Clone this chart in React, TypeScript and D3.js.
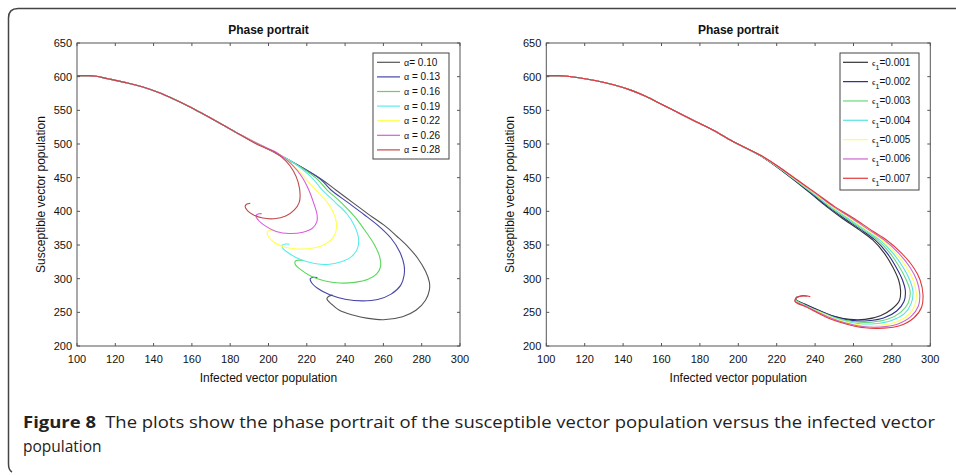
import React from "react";
import * as d3 from "d3";

type P = [number, number];

// ---------- data ----------
const xTicks = [100, 120, 140, 160, 180, 200, 220, 240, 260, 280, 300];
const yTicks = [200, 250, 300, 350, 400, 450, 500, 550, 600, 650];

const leftLabels = ["0.10", "0.13", "0.16", "0.19", "0.22", "0.26", "0.28"];
const rightLabels = ["0.001", "0.002", "0.003", "0.004", "0.005", "0.006", "0.007"];

const leftColors = ["#555555", "#4646aa", "#5ad85a", "#5aecec", "#ffff50", "#dc5adc", "#c04a4a"];
const rightColors = ["#333333", "#2c2c8c", "#6ad87a", "#5ae2e2", "#ffff5a", "#cc66cc", "#e03a3a"];

const leftCommon: P[] = [
  [100, 601.5], [106, 601.5], [110, 600.5], [116, 597], [125, 591.5], [134, 585],
  [143, 576], [151, 566], [158, 556.5], [165, 546], [177, 527], [186, 512.5],
];

const alpha010: P[] = [[196, 498], [212, 474], [228, 447], [235, 432], [244, 413], [253, 394], [261, 378], [267, 363], [273, 347], [278, 330], [282, 311], [284, 295], [284, 283], [282, 268], [277, 253], [270, 243.5], [260, 239], [252, 241], [244, 246], [237, 253], [233, 262], [230.5, 270], [231.5, 274], [233.5, 275.5]];
const alpha013: P[] = [[196, 498], [212, 474], [227, 448], [232.5, 432], [241, 414], [250, 395], [258, 377], [264, 360], [268.5, 340], [270.8, 320], [270.8, 305], [269, 290], [264, 277], [257, 269], [249, 267], [240, 269.5], [232, 276], [226, 285], [222.5, 294], [221.8, 300], [223.5, 302], [225.5, 301.5]];
const alpha016: P[] = [[196, 498], [212, 474], [225, 449], [230.5, 432], [238, 413], [245, 392], [250, 373], [255, 352], [258, 333], [258.5, 318], [256.5, 307], [252, 299], [245, 294.5], [237, 293.5], [229, 297], [222, 304], [217, 313], [214, 321], [214, 326], [216, 327.5], [218, 327]];
const alpha019: P[] = [[196, 498], [212, 474], [222, 452], [228, 432], [235, 413], [241, 396], [245, 378], [247, 360], [246.5, 345], [243.5, 333], [238, 325], [231, 321], [224, 322.5], [217, 328], [211, 337], [207.5, 345], [207, 349.5], [209, 351.5], [211, 351]];
const alpha022: P[] = [[196, 498], [208, 480], [216, 459], [222, 440], [227, 425], [231.5, 410], [234.5, 394], [235.6, 377], [234, 362], [230, 352], [223.5, 345.5], [215, 344], [207, 348], [202, 356], [199.5, 365], [199.5, 370], [201, 372], [203, 372]];
const alpha026: P[] = [[196, 498], [205, 486], [212, 470], [217.5, 451], [221, 432], [223.5, 413], [225.3, 396], [225.3, 385], [223, 375], [218, 369], [211, 367], [204, 370], [198.5, 378], [195, 386], [193.5, 393], [194.5, 396], [196.5, 396.5]];
const alpha028: P[] = [[195, 498], [203, 488], [209, 475], [213, 460], [215.5, 443], [216.5, 425], [216, 413], [213.5, 402], [209, 393], [203, 389], [197, 390], [192, 395], [189, 401], [187.8, 407], [188.5, 410.5], [190.5, 412]];

const rightCommon: P[] = [
  [100, 601.5], [106, 601.5], [110, 601], [117, 598.5], [126, 594], [135, 588],
  [144, 580], [152, 570.5], [160, 559], [169, 546], [178, 533], [187, 520.5], [197, 504], [205, 492.5],
];

const eps001: P[] = [[213, 480], [221, 464], [229, 446.5], [237.5, 427], [246, 407], [254.5, 389], [263, 372.5], [270, 357.5], [276, 338], [280.5, 317], [283.5, 298], [284.5, 283], [284, 268], [280, 255], [274, 245], [266, 239.5], [258, 239.5], [250, 244], [242, 253], [235, 262], [230, 269], [230.5, 272.5], [233, 274], [235.5, 273.5]];
const eps002: P[] = [[213.1, 480], [221.2, 464], [229.3, 446.5], [238, 427], [246.7, 407], [255.5, 389], [264, 372.5], [271.2, 357.5], [277.5, 338], [282.2, 317], [285.5, 298], [287, 282], [286.3, 266], [282.5, 252], [276, 242], [267.5, 237.5], [259, 238], [250.5, 243.5], [242, 252.5], [234.5, 261.5], [230, 268.5], [230.5, 272.5], [233, 274], [235.5, 273.5]];
const eps003: P[] = [[213.2, 480], [221.4, 464], [229.6, 446.5], [238.5, 427], [247.4, 407], [256.5, 389], [265, 372.5], [272.4, 357.5], [279, 338], [284, 317], [287.5, 298], [289.5, 281], [288.5, 264], [284.5, 250], [278, 240], [269.5, 235.5], [260.5, 236], [251, 241.5], [242.5, 251], [234.5, 261], [230, 268.5], [230.5, 272.5], [233, 274], [235.5, 273.5]];
const eps004: P[] = [[213.3, 480], [221.6, 464], [229.9, 446.5], [239, 427], [248.1, 407], [257.5, 389], [266, 372.5], [273.6, 357.5], [280.5, 338], [285.8, 317], [289.3, 298], [291, 280], [290, 263], [286.5, 248], [279.5, 237.5], [271, 233], [262, 233.5], [252.5, 239.5], [243.5, 249.5], [234.5, 260.5], [229.8, 268], [230.5, 272.5], [233, 274], [235.5, 273.5]];
const eps005: P[] = [[213.4, 480], [221.8, 464], [230.2, 446.5], [239.5, 427], [248.8, 407], [258.5, 389], [267, 372.5], [274.8, 357.5], [282, 338], [287.6, 317], [291.1, 298], [292.7, 279], [292, 261], [288.5, 246], [281, 234.5], [272.5, 230.5], [263.5, 231], [254, 237], [245, 247], [235, 259.5], [229.7, 267.5], [230.5, 272.3], [233, 274.2], [235.8, 273.7]];
const eps006: P[] = [[213.5, 480], [222, 464], [230.5, 446.5], [240, 427], [249.5, 407], [259.5, 389], [268, 372.5], [276, 357.5], [283.5, 338], [289.4, 317], [292.9, 298], [294.5, 277.5], [293.8, 259.5], [290, 244], [282.5, 232], [273.8, 228.2], [264.8, 229], [255.5, 234.5], [246.5, 243.5], [235.5, 258.5], [229.6, 267], [230.5, 272.2], [233, 274.3], [236, 273.8]];
const eps007: P[] = [[213.6, 480], [222.2, 464], [230.8, 446.5], [240.5, 427], [250.2, 407], [260.5, 389], [269, 372.5], [277.2, 357.5], [285, 338], [291.2, 317], [294.7, 298], [296.2, 276], [295.5, 258], [291.5, 242], [284, 230], [275, 226.5], [266, 227], [257, 232], [248, 240], [236, 257], [229.5, 266.5], [230.5, 272], [233, 274.5], [236, 274.3], [237.5, 273]];

const leftSeries = [alpha010, alpha013, alpha016, alpha019, alpha022, alpha026, alpha028].map((t) => [...leftCommon, ...t]);
const rightSeries = [eps001, eps002, eps003, eps004, eps005, eps006, eps007].map((t) => [...rightCommon, ...t]);

const FONT = "Arial, 'Liberation Sans', sans-serif";

function Panel(props: {
  x0: number; x1: number; series: P[][]; colors: string[];
  legend: React.ReactNode;
}) {
  const { x0, x1, series, colors, legend } = props;
  const y0 = 43, y1 = 346;
  const x = d3.scaleLinear().domain([100, 300]).range([x0, x1]);
  const y = d3.scaleLinear().domain([200, 650]).range([y1, y0]);
  const line = d3.line<P>().x((d) => x(d[0])).y((d) => y(d[1])).curve(d3.curveCatmullRom.alpha(0.5));
  const cx = (x0 + x1) / 2;
  const axisColor = "#555";
  return (
    <g fontFamily={FONT}>
      {series.map((s, i) => (
        <path key={i} d={line(s) || ""} fill="none" stroke={colors[i]} strokeWidth={1.1} />
      ))}
      <rect x={x0} y={y0} width={x1 - x0} height={y1 - y0} fill="none" stroke={axisColor} strokeWidth={1} />
      {xTicks.map((t) => (
        <g key={"x" + t}>
          <line x1={x(t)} x2={x(t)} y1={y1} y2={y1 - 3} stroke={axisColor} />
          <line x1={x(t)} x2={x(t)} y1={y0} y2={y0 + 3} stroke={axisColor} />
          <text x={x(t)} y={363} fontSize={11} textAnchor="middle" fill="#111">{t}</text>
        </g>
      ))}
      {yTicks.map((t) => (
        <g key={"y" + t}>
          <line x1={x0} x2={x0 + 3} y1={y(t)} y2={y(t)} stroke={axisColor} />
          <line x1={x1} x2={x1 - 3} y1={y(t)} y2={y(t)} stroke={axisColor} />
          <text x={x0 - 5} y={y(t) + 4} fontSize={11} textAnchor="end" fill="#111">{t}</text>
        </g>
      ))}
      <text x={cx} y={34} fontSize={12} fontWeight="bold" textAnchor="middle" fill="#111">Phase portrait</text>
      <text x={cx} y={382} fontSize={12} textAnchor="middle" fill="#111">Infected vector population</text>
      <text transform={`translate(${x0 - 32},${(y0 + y1) / 2}) rotate(-90)`} fontSize={12} textAnchor="middle" fill="#111">Susceptible vector population</text>
      {legend}
    </g>
  );
}

export default function App() {
  const leftLegend = (
    <g>
      <rect x={373} y={53} width={76} height={106} fill="#fff" stroke="#444" />
      {leftLabels.map((l, i) => {
        const yy = 62.3 + i * 14.6;
        return (
          <g key={l}>
            <line x1={377} x2={400} y1={yy} y2={yy} stroke={leftColors[i]} strokeWidth={1.2} />
            <text x={404} y={yy + 3.5} fontSize={10} fill="#111">
              <tspan fontSize={9}>α</tspan>{i === 0 ? "= " + l : " = " + l}
            </text>
          </g>
        );
      })}
    </g>
  );
  const rightLegend = (
    <g>
      <rect x={840} y={53} width={79} height={137} fill="#fff" stroke="#444" />
      {rightLabels.map((l, i) => {
        const yy = 62.3 + i * 19.33;
        return (
          <g key={l}>
            <line x1={843} x2={868} y1={yy} y2={yy} stroke={rightColors[i]} strokeWidth={1.2} />
            <text x={872} y={yy + 3.5} fontSize={10} fill="#111">
              <tspan fontSize={8}>ϵ</tspan>
              <tspan fontSize={7} dy={4}>1</tspan>
              <tspan dy={-4}>{"=" + l}</tspan>
            </text>
          </g>
        );
      })}
    </g>
  );
  return (
    <svg width={956} height={475} style={{ position: "absolute", left: 0, top: 0 }}>
      <rect x={0} y={0} width={956} height={475} fill="#fff" />
      <path d="M 956 8.5 H 18 Q 8.5 8.5 8.5 18 V 464 Q 8.5 470 12 472" fill="none" stroke="#444" strokeWidth={1.5} />
      <Panel x0={77} x1={460} series={leftSeries} colors={leftColors} legend={leftLegend} />
      <Panel x0={546.3} x1={930.3} series={rightSeries} colors={rightColors} legend={rightLegend} />
      <text x={23} y={428} fontFamily="'Open Sans', 'Noto Sans', sans-serif" fontSize={15.5} fill="#222" textLength={912} lengthAdjust="spacingAndGlyphs">
        <tspan fontWeight="bold">Figure 8</tspan>
        <tspan>{"\u2002The plots show the phase portrait of the susceptible vector population versus the infected vector"}</tspan>
      </text>
      <text x={23} y={452} fontFamily="'Open Sans', 'Noto Sans', sans-serif" fontSize={15.5} fill="#222">population</text>
    </svg>
  );
}
